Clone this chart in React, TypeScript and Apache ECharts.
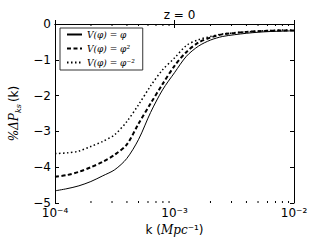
import React, { useEffect, useRef } from "react";
import * as echarts from "echarts";

const kValues = [
  1e-4, 1.2589e-4, 1.5849e-4, 1.9953e-4, 2.5119e-4, 3.1623e-4, 3.9811e-4, 5.0119e-4, 6.3096e-4, 7.9433e-4,
  1e-3, 1.2589e-3, 1.5849e-3, 1.9953e-3, 2.5119e-3, 3.1623e-3, 3.9811e-3, 5.0119e-3, 6.3096e-3, 7.9433e-3, 1e-2,
];
const solidValues = [
  -4.66, -4.6, -4.52, -4.4, -4.24, -4.07, -3.76, -3.22, -2.47, -1.84, -1.36, -0.9, -0.62, -0.45, -0.35, -0.3, -0.26,
  -0.23, -0.21, -0.2, -0.19,
];
const dashedValues = [
  -4.27, -4.22, -4.13, -4.0, -3.85, -3.65, -3.37, -2.78, -2.22, -1.68, -1.17, -0.78, -0.52, -0.38, -0.29, -0.25, -0.22,
  -0.2, -0.19, -0.18, -0.18,
];
const dottedValues = [
  -3.62, -3.6, -3.55, -3.42, -3.28, -3.09, -2.73, -2.25, -1.73, -1.28, -0.95, -0.6, -0.44, -0.35, -0.28, -0.25, -0.22,
  -0.2, -0.18, -0.17, -0.17,
];
const seriesNames = ["V(φ) = φ", "V(φ) = φ²", "V(φ) = φ⁻²"];
const minorTickValues = [
  2e-4, 3e-4, 4e-4, 5e-4, 6e-4, 7e-4, 8e-4, 9e-4, 2e-3, 3e-3, 4e-3, 5e-3, 6e-3, 7e-3, 8e-3, 9e-3,
];
const xTickLabels: Record<string, string> = { "-4": "10⁻⁴", "-3": "10⁻³", "-2": "10⁻²" };
const titleText = "z = 0";

const sans = "DejaVu Sans";
const serif = "DejaVu Serif";

export default function App() {
  const ref = useRef<HTMLDivElement>(null);
  useEffect(() => {
    if (!ref.current) return;
    const chart = echarts.init(ref.current, null, { renderer: "svg" });
    const pairs = (vals: number[]) => kValues.map((k, i) => [k, vals[i]]);
    const grid = { left: 55, top: 24, width: 239, height: 179 };
    chart.setOption({
      animation: false,
      backgroundColor: "#fff",
      title: {
        text: titleText,
        left: 174.5,
        top: 4,
        textAlign: "center",
        textStyle: { fontFamily: sans, fontSize: 12, fontWeight: "normal", color: "#000" },
      },
      grid,
      legend: {
        data: seriesNames,
        orient: "vertical",
        left: 60,
        top: 28,
        padding: [2, 8, 3, 6],
        itemGap: 5,
        itemWidth: 15,
        itemHeight: 10,
        borderColor: "#333",
        borderWidth: 1,
        borderRadius: 0,
        backgroundColor: "#fff",
        itemStyle: { opacity: 0 },
        textStyle: { fontFamily: serif, fontStyle: "italic", fontSize: 9, color: "#000" },
      },
      xAxis: [
        {
          type: "log",
          logBase: 10,
          min: 1e-4,
          max: 1e-2,
          position: "bottom",
          splitLine: { show: false },
          axisLine: { lineStyle: { color: "#000", width: 1 } },
          axisTick: { inside: true, length: 4, lineStyle: { color: "#000" } },
          axisLabel: {
            margin: 4,
            fontFamily: sans,
            fontSize: 12,
            color: "#000",
            formatter: (v: number) => xTickLabels[String(Math.round(Math.log10(v)))] ?? "",
          },
          name: "{n|k (}{i|Mpc}{n|⁻¹)}",
          nameLocation: "middle",
          nameGap: 18,
          nameTextStyle: {
            rich: {
              n: { fontFamily: sans, fontSize: 12, color: "#000" },
              i: { fontFamily: serif, fontStyle: "italic", fontSize: 12, color: "#000" },
            },
          },
        },
        {
          type: "log",
          logBase: 10,
          min: 1e-4,
          max: 1e-2,
          position: "top",
          splitLine: { show: false },
          axisLine: { lineStyle: { color: "#000", width: 1 } },
          axisTick: { inside: true, length: 4, lineStyle: { color: "#000" } },
          axisLabel: { show: false },
        },
      ],
      yAxis: [
        {
          type: "value",
          min: -5,
          max: 0,
          interval: 1,
          position: "left",
          splitLine: { show: false },
          axisLine: { show: true, lineStyle: { color: "#000", width: 1 } },
          axisTick: { show: true, inside: true, length: 4, lineStyle: { color: "#000" } },
          axisLabel: {
            margin: 4,
            fontFamily: sans,
            fontSize: 12,
            color: "#000",
            formatter: (v: number) => (v === 0 ? "0" : "−" + Math.abs(v)),
          },
          name: "{i|%ΔP}{s|ks}{n|(k)}",
          nameLocation: "middle",
          nameRotate: 90,
          nameGap: 24,
          nameTextStyle: {
            rich: {
              i: { fontFamily: serif, fontStyle: "italic", fontSize: 12, color: "#000", lineHeight: 16, verticalAlign: "middle" },
              s: { fontFamily: serif, fontStyle: "italic", fontSize: 8, color: "#000", lineHeight: 16, verticalAlign: "bottom", padding: [0, 2, 0, 0] },
              n: { fontFamily: sans, fontSize: 12, color: "#000", lineHeight: 16, verticalAlign: "middle" },
            },
          },
        },
        {
          type: "value",
          min: -5,
          max: 0,
          interval: 1,
          position: "right",
          splitLine: { show: false },
          axisLine: { show: true, lineStyle: { color: "#000", width: 1 } },
          axisTick: { show: true, inside: true, length: 4, lineStyle: { color: "#000" } },
          axisLabel: { show: false },
        },
      ],
      series: [
        {
          name: seriesNames[0],
          type: "line",
          data: pairs(solidValues),
          showSymbol: false,
          symbol: "none",
          smooth: 0.3,
          lineStyle: { color: "#000", width: 1, type: "solid" },
          itemStyle: { color: "#000" },
        },
        {
          name: seriesNames[1],
          type: "line",
          data: pairs(dashedValues),
          showSymbol: false,
          symbol: "none",
          smooth: 0.3,
          lineStyle: { color: "#000", width: 2, type: [4, 2.5] },
          itemStyle: { color: "#000" },
        },
        {
          name: seriesNames[2],
          type: "line",
          data: pairs(dottedValues),
          showSymbol: false,
          symbol: "none",
          smooth: 0.3,
          lineStyle: { color: "#000", width: 1.5, type: [1.5, 2.5] },
          itemStyle: { color: "#000" },
        },
        {
          type: "custom",
          data: minorTickValues.map((k) => [k]),
          encode: { x: 0 },
          silent: true,
          renderItem: (params: any, api: any) => {
            const k = api.value(0);
            const b = api.coord([k, -5]);
            const t = api.coord([k, 0]);
            const st = { stroke: "#000", lineWidth: 1 };
            return {
              type: "group",
              children: [
                { type: "line", shape: { x1: b[0], y1: b[1], x2: b[0], y2: b[1] - 2 }, style: st },
                { type: "line", shape: { x1: t[0], y1: t[1], x2: t[0], y2: t[1] + 2 }, style: st },
              ],
            };
          },
        },
      ],
    });
    return () => chart.dispose();
  }, []);
  return <div ref={ref} style={{ position: "fixed", left: 0, top: 0, width: 327, height: 245 }} />;
}
